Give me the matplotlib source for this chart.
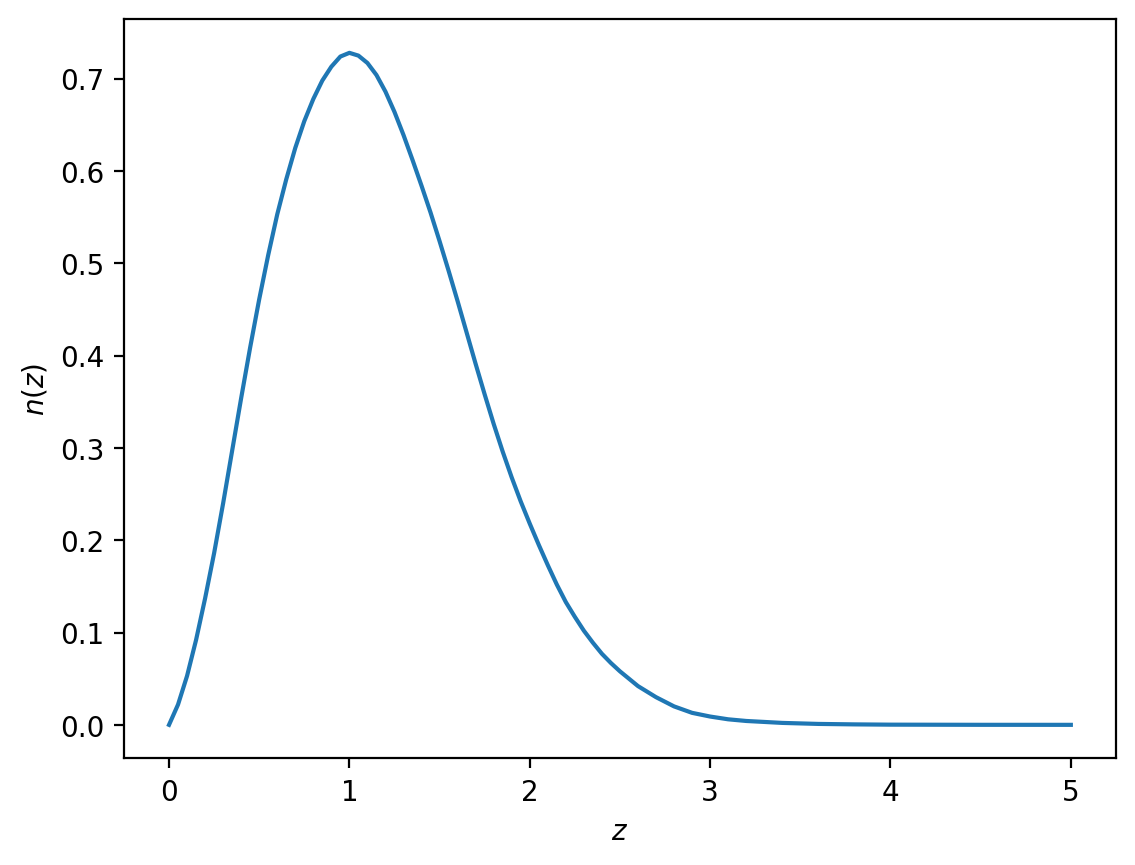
import matplotlib
matplotlib.use("Agg")
import matplotlib.pyplot as plt

z = [0.00, 0.05, 0.10, 0.15, 0.20, 0.25, 0.30, 0.35, 0.40, 0.45, 0.50, 0.55,
     0.60, 0.65, 0.70, 0.75, 0.80, 0.85, 0.90, 0.95, 1.00, 1.05, 1.10, 1.15,
     1.20, 1.25, 1.30, 1.35, 1.40, 1.45, 1.50, 1.55, 1.60, 1.65, 1.70, 1.75,
     1.80, 1.85, 1.90, 1.95, 2.00, 2.05, 2.10, 2.15, 2.20, 2.25, 2.30, 2.35,
     2.40, 2.45, 2.50, 2.60, 2.70, 2.80, 2.90, 3.00, 3.10, 3.20, 3.40, 3.60,
     3.80, 4.00, 4.50, 5.00]
n_z = [0.000, 0.022, 0.053, 0.092, 0.137, 0.186, 0.240, 0.297, 0.354, 0.409,
       0.461, 0.509, 0.553, 0.591, 0.625, 0.654, 0.678, 0.698, 0.713, 0.724,
       0.728, 0.725, 0.717, 0.704, 0.686, 0.664, 0.639, 0.612, 0.584, 0.555,
       0.524, 0.492, 0.459, 0.425, 0.391, 0.358, 0.326, 0.296, 0.268, 0.242,
       0.218, 0.195, 0.173, 0.152, 0.133, 0.117, 0.102, 0.089, 0.077, 0.067,
       0.058, 0.042, 0.030, 0.020, 0.013, 0.009, 0.006, 0.0042, 0.0021, 0.0010,
       0.0005, 0.0002, 0.00003, 0.0]

fig, ax = plt.subplots(figsize=(6.4, 4.8), dpi=200)
ax.plot(z, n_z, color="C0")
ax.set_xlabel("$z$")
ax.set_ylabel("$n(z)$")
fig.savefig("out.png", dpi=200, bbox_inches="tight")
